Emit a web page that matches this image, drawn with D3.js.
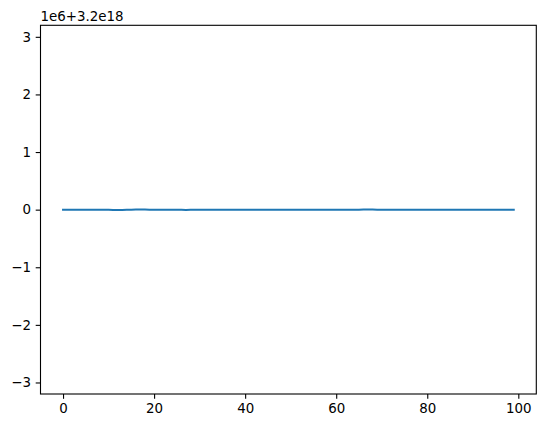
<!DOCTYPE html>
<html><head><meta charset="utf-8">
<script src="https://cdn.jsdelivr.net/npm/d3@7"></script>
<style>body{margin:0;background:#fff}svg{display:block}text{font-family:"DejaVu Sans",sans-serif;fill:#000}</style>
</head><body>
<svg id="c" width="546" height="428"></svg>
<script>
// values are offsets in units of 1e6 from 3.2e18
const xValues = d3.range(100);
const yValues = [
 0,0,0,0,0,0,0,0,0,0,
 -0.002,-0.004,-0.005,-0.004,-0.002,0,0.002,0.003,0.002,0,
 0,0,0,0,0,-0.002,-0.003,-0.004,-0.003,-0.002,
 0,0,0,0,0,0,0,0,0,0,
 0,0,0,0,0,0,0,0,0,0,
 0,0,0,0,0,0,0,0,0,0,
 0,0,0,0,0,0,0.002,0.003,0.002,0,
 0,0,0,0,0,0,0,0,0,0,
 0,0,0,0,0,0,0,0,0,0,
 0,0,0,0,0,0,0,0,0,0
];
const xTicks = [0,20,40,60,80,100];
const yTicks = [-3,-2,-1,0,1,2,3];
const offsetLabel = "1e6+3.2e18";

const svg = d3.select("#c");
const L=40.5, R=536.3, T=25.3, B=394;
const x = d3.scaleLinear().domain([-4.95,103.95]).range([L,R]);
const y = d3.scaleLinear().domain([-3.2,3.2]).range([B,T]);

const line = d3.line().x((d,i)=>x(xValues[i])).y(d=>y(d));
svg.append("path").datum(yValues).attr("d",line)
  .attr("fill","none").attr("stroke","#1f77b4").attr("stroke-width",2)
  .attr("stroke-linecap","square");

const fs = 13.4;
const xa = svg.append("g").attr("transform",`translate(0,${B})`)
  .call(d3.axisBottom(x).tickValues(xTicks).tickSize(4.8).tickPadding(4.2).tickFormat(d3.format("d")));
const ya = svg.append("g").attr("transform",`translate(${L},0)`)
  .call(d3.axisLeft(y).tickValues(yTicks).tickSize(4.8).tickPadding(4.8)
    .tickFormat(d=> d<0 ? "\u2212"+Math.abs(d) : String(d)));
[xa,ya].forEach(a=>{
  a.select(".domain").remove();
  a.selectAll("line").attr("stroke","#000").attr("stroke-width",1.1);
  a.selectAll("text").attr("font-size",fs).attr("font-family","DejaVu Sans").attr("fill","#000");
});
svg.append("rect").attr("x",L).attr("y",T).attr("width",R-L).attr("height",B-T)
  .attr("fill","none").attr("stroke","#000").attr("stroke-width",1.1);
svg.append("text").attr("x",L).attr("y",T-4.5).attr("font-size",fs).text(offsetLabel);
</script>
</body></html>
